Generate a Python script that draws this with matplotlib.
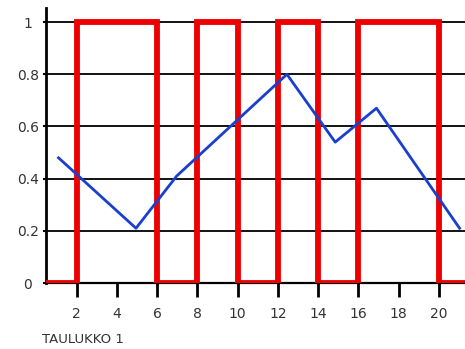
import matplotlib
matplotlib.use("Agg")
import matplotlib.pyplot as plt

# ── Data ──────────────────────────────────────────────────────────────────
# red square wave: level between consecutive edges
STEP_EDGES  = [0.48, 2, 6, 8, 10, 12, 14, 16, 20, 21.3]
STEP_LEVELS = [0, 1, 0, 1, 0, 1, 0, 1, 0]

# blue line
LINE_X = [1.1, 4.95, 6.97, 12.45, 14.85, 16.9, 21.03]
LINE_Y = [0.48, 0.21, 0.41, 0.80, 0.54, 0.67, 0.21]

X_TICKS = [2, 4, 6, 8, 10, 12, 14, 16, 18, 20]
Y_TICKS = [0, 0.2, 0.4, 0.6, 0.8, 1]
Y_LABELS = ["0", "0.2", "0.4", "0.6", "0.8", "1"]

# ── Plot ──────────────────────────────────────────────────────────────────
fig = plt.figure(figsize=(4.65, 3.49), dpi=100)
ax = fig.add_axes([0.099, 0.189, 0.901, 0.788])

for yv in Y_TICKS[1:]:
    ax.axhline(yv, color="black", lw=1.3, zorder=1)

ax.stairs(STEP_LEVELS, STEP_EDGES, baseline=None,
          color="#ee0000", lw=4.2, zorder=3)
ax.plot(LINE_X, LINE_Y, color="#1a3fcc", lw=2.0, zorder=4)

ax.set_xlim(STEP_EDGES[0], STEP_EDGES[-1])
ax.set_ylim(0, 1.054)

for s in ["top", "right"]:
    ax.spines[s].set_visible(False)
ax.spines["left"].set_linewidth(2)
ax.spines["bottom"].set_linewidth(1.6)
ax.spines["bottom"].set_zorder(2)

ax.set_xticks(X_TICKS)
ax.set_yticks(Y_TICKS)
ax.set_yticklabels(Y_LABELS)
ax.tick_params(axis="x", length=10, width=2, pad=7, labelsize=10,
               labelcolor="#333333")
ax.tick_params(axis="y", length=2, width=1.5, pad=11, labelsize=10,
               labelcolor="#333333")
for lbl in ax.get_yticklabels():
    lbl.set_horizontalalignment("center")

fig.text(0.09, 0.01, "TAULUKKO 1", fontsize=9.5, color="#333333",
         ha="left", va="bottom")

plt.savefig("out.png", dpi=100)
